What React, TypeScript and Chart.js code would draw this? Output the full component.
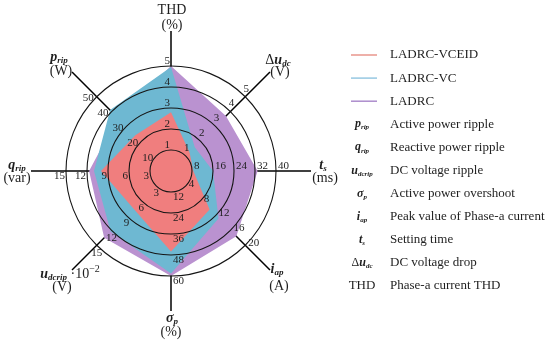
import React, { useEffect, useRef } from 'react';
import { Chart, registerables } from 'chart.js';
Chart.register(...registerables);

// Axes, clockwise from top
const categories = ['THD', 'Δu_dc', 't_s', 'i_ap', 'σ_p', 'u_dcrip', 'q_rip', 'p_rip'];
// value of the outer (5th) ring on each axis
const axisMax = [5, 5, 40, 20, 60, 15, 15, 50];
// ring levels (in ring units)
const ringLevels = [1, 2, 3, 4, 5];

// series values in real units
const ladrcVceid = [2.8, 1.25, 8.5, 10.4, 46, 7.6, 10, 24];
const ladrcVc = [4.95, 1.6, 16, 12.8, 58.5, 12.2, 11, 41];
const ladrc = [5, 3.7, 33, 17.6, 60, 13.5, 11.7, 36];

// ring tick labels per axis
const ticksTHD = ['1', '2', '3', '4', '5'];
const ticksDu = ['1', '2', '3', '4', '5'];
const ticksTs = ['8', '16', '24', '32', '40'];
const ticksIap = ['4', '8', '12', '16', '20'];
const ticksSigma = ['12', '24', '36', '48', '60'];
const ticksUdc = ['3', '6', '9', '12', '15'];
const ticksQ = ['3', '6', '9', '12', '15'];
const ticksP = ['10', '20', '30', '40', '50'];
const tickLabels = [ticksTHD, ticksDu, ticksTs, ticksIap, ticksSigma, ticksUdc, ticksQ, ticksP];

const seriesNames = ['LADRC-VCEID', 'LADRC-VC', 'LADRC'];
const descriptions = [
  'Active power ripple',
  'Reactive power ripple',
  'DC voltage ripple',
  'Active power overshoot',
  'Peak value of Phase-a current',
  'Setting time',
  'DC voltage drop',
  'Phase-a current THD',
];

const FILL = ['rgb(240,126,126)', 'rgb(110,184,210)', 'rgb(186,146,208)'];
const LEG = ['rgb(232,150,140)', 'rgb(150,200,226)', 'rgb(172,140,204)'];
const SERIF = '"Liberation Serif", "Times New Roman", serif';
const TXT = '#1e1e1e';

type Part = { t: string; k: 'r' | 'bi' | 'sub' | 'sup' };

const symParts: Record<string, Part[]> = {
  THD: [{ t: 'THD', k: 'r' }],
  'Δu_dc': [{ t: 'Δ', k: 'r' }, { t: 'u', k: 'bi' }, { t: 'dc', k: 'sub' }],
  t_s: [{ t: 't', k: 'bi' }, { t: 's', k: 'sub' }],
  i_ap: [{ t: 'i', k: 'bi' }, { t: 'ap', k: 'sub' }],
  'σ_p': [{ t: 'σ', k: 'bi' }, { t: 'p', k: 'sub' }],
  u_dcrip: [{ t: 'u', k: 'bi' }, { t: 'dcrip', k: 'sub' }],
  q_rip: [{ t: 'q', k: 'bi' }, { t: 'rip', k: 'sub' }],
  p_rip: [{ t: 'p', k: 'bi' }, { t: 'rip', k: 'sub' }],
};
const units = ['(%)', '(V)', '(ms)', '(A)', '(%)', '(V)', '(var)', '(W)'];

function fontFor(k: Part['k'], size: number) {
  if (k === 'r') return `${size}px ${SERIF}`;
  if (k === 'bi') return `bold italic ${size}px ${SERIF}`;
  if (k === 'sub') return `bold italic ${Math.round(size * 0.62)}px ${SERIF}`;
  return `${Math.round(size * 0.68)}px ${SERIF}`;
}

function drawRich(ctx: CanvasRenderingContext2D, parts: Part[], x: number, y: number, align: 'left' | 'center' | 'right', size: number) {
  ctx.save();
  ctx.textBaseline = 'middle';
  ctx.textAlign = 'left';
  let total = 0;
  const widths = parts.map((p) => {
    ctx.font = fontFor(p.k, size);
    const w = ctx.measureText(p.t).width;
    total += w;
    return w;
  });
  let cx = align === 'left' ? x : align === 'center' ? x - total / 2 : x - total;
  parts.forEach((p, i) => {
    ctx.font = fontFor(p.k, size);
    let dy = 0;
    if (p.k === 'sub') dy = size * 0.28;
    if (p.k === 'sup') dy = -size * 0.35;
    ctx.fillText(p.t, cx, y + dy);
    cx += widths[i];
  });
  ctx.restore();
}

// label offsets from the end of each axis line: [symbol dx, dy, unit dx, dy]
const labelOffsets = [
  [1, -21, 1, -6],
  [8, -12, 10, 0],
  [12, -6, 14, 7],
  [7, -1, 9, 16],
  [1, 7, 0, 21],
  [-2, 4, -10, 17],
  [-14, -6, -14, 7],
  [-13, -15, -11, -1],
];

const rings = {
  id: 'rings',
  afterDatasetsDraw(chart: any) {
    const ctx: CanvasRenderingContext2D = chart.ctx;
    const scale = chart.scales.r;
    ctx.save();
    ctx.strokeStyle = '#151515';
    ctx.lineWidth = 1.1;
    ringLevels.forEach((v) => {
      const r = scale.getDistanceFromCenterForValue(v);
      ctx.beginPath();
      ctx.arc(scale.xCenter, scale.yCenter, r, 0, Math.PI * 2);
      ctx.stroke();
    });
    ctx.restore();
  },
};

const overlay = {
  id: 'overlay',
  afterDraw(chart: any) {
    const ctx: CanvasRenderingContext2D = chart.ctx;
    const scale = chart.scales.r;
    const outer = scale.drawingArea;
    ctx.save();
    ctx.fillStyle = TXT;
    // tick labels
    ctx.font = `11px ${SERIF}`;
    for (let i = 0; i < categories.length; i++) {
      for (let k = 1; k <= 5; k++) {
        const p = scale.getPointPositionForValue(i, k);
        const t = tickLabels[i][k - 1];
        ctx.textBaseline = 'middle';
        let x = p.x, y = p.y, a: CanvasTextAlign = 'center';
        switch (i) {
          case 0: a = 'right'; x -= 1; y -= 5; break;
          case 1: a = 'center'; x += 1; y -= 8; break;
          case 2: a = 'left'; x += 2; y -= 5; break;
          case 3: a = 'left'; x += 3; y -= 2; break;
          case 4: a = 'left'; x += 2; y += 5; break;
          case 5: a = 'center'; y += 7.5; break;
          case 6: a = 'right'; x -= 1; y += 5; break;
          case 7: a = 'right'; x -= 3; y += 1.5; break;
        }
        ctx.textAlign = a;
        ctx.fillText(t, x, y);
      }
    }
    // axis labels
    for (let i = 0; i < categories.length; i++) {
      const e = scale.getPointPosition(i, outer);
      const o = labelOffsets[i];
      let parts = symParts[categories[i]];
      if (categories[i] === 'u_dcrip') parts = [...parts, { t: ' ·10', k: 'r' }, { t: '−2', k: 'sup' }];
      drawRich(ctx, parts, e.x + o[0], e.y + o[1], 'center', 14);
      drawRich(ctx, [{ t: units[i], k: 'r' }], e.x + o[2], e.y + o[3], 'center', 14);
    }
    // legend
    const lx0 = 351, lx1 = 377, tx = 390, y0 = 55, dy = 23.1;
    seriesNames.forEach((n, i) => {
      const y = y0 + dy * i;
      ctx.strokeStyle = LEG[i];
      ctx.lineWidth = 1.5;
      ctx.beginPath();
      ctx.moveTo(lx0, y);
      ctx.lineTo(lx1, y);
      ctx.stroke();
      drawRich(ctx, [{ t: n, k: 'r' }], tx, y, 'left', 13);
    });
    const legendOrder = ['p_rip', 'q_rip', 'u_dcrip', 'σ_p', 'i_ap', 't_s', 'Δu_dc', 'THD'];
    legendOrder.forEach((c, j) => {
      const y = y0 + dy * (j + 3);
      drawRich(ctx, symParts[c], 362, y, 'center', c === 'THD' ? 13 : 12);
      drawRich(ctx, [{ t: descriptions[j], k: 'r' }], tx, y, 'left', 13);
    });
    ctx.restore();
  },
};

const norm = (arr: number[]) => arr.map((v, i) => (v / axisMax[i]) * 5);

export default function App() {
  const ref = useRef<HTMLCanvasElement>(null);
  useEffect(() => {
    const chart = new Chart(ref.current as HTMLCanvasElement, {
      type: 'radar',
      data: {
        labels: categories,
        datasets: [
          { label: seriesNames[0], data: norm(ladrcVceid), backgroundColor: FILL[0], borderWidth: 0, pointRadius: 0, fill: true },
          { label: seriesNames[1], data: norm(ladrcVc), backgroundColor: FILL[1], borderWidth: 0, pointRadius: 0, fill: true },
          { label: seriesNames[2], data: norm(ladrc), backgroundColor: FILL[2], borderWidth: 0, pointRadius: 0, fill: true },
        ],
      },
      options: {
        responsive: false,
        animation: false,
        layout: { padding: { left: 31, top: 31, right: 239, bottom: 31 } },
        plugins: { legend: { display: false }, tooltip: { enabled: false } },
        scales: {
          r: {
            z: 1,
            min: 0,
            max: 20 / 3,
            ticks: { display: false, stepSize: 1 },
            pointLabels: { display: false },
            grid: { display: false },
            angleLines: { color: '#000', lineWidth: 1.5 },
          },
        },
      },
      plugins: [rings, overlay],
    } as any);
    return () => chart.destroy();
  }, []);
  return (
    <div style={{ position: 'fixed', left: 0, top: 0, width: 550, height: 342, background: '#fff' }}>
      <canvas ref={ref} width={550} height={342} style={{ display: 'block', width: 550, height: 342 }} />
    </div>
  );
}
